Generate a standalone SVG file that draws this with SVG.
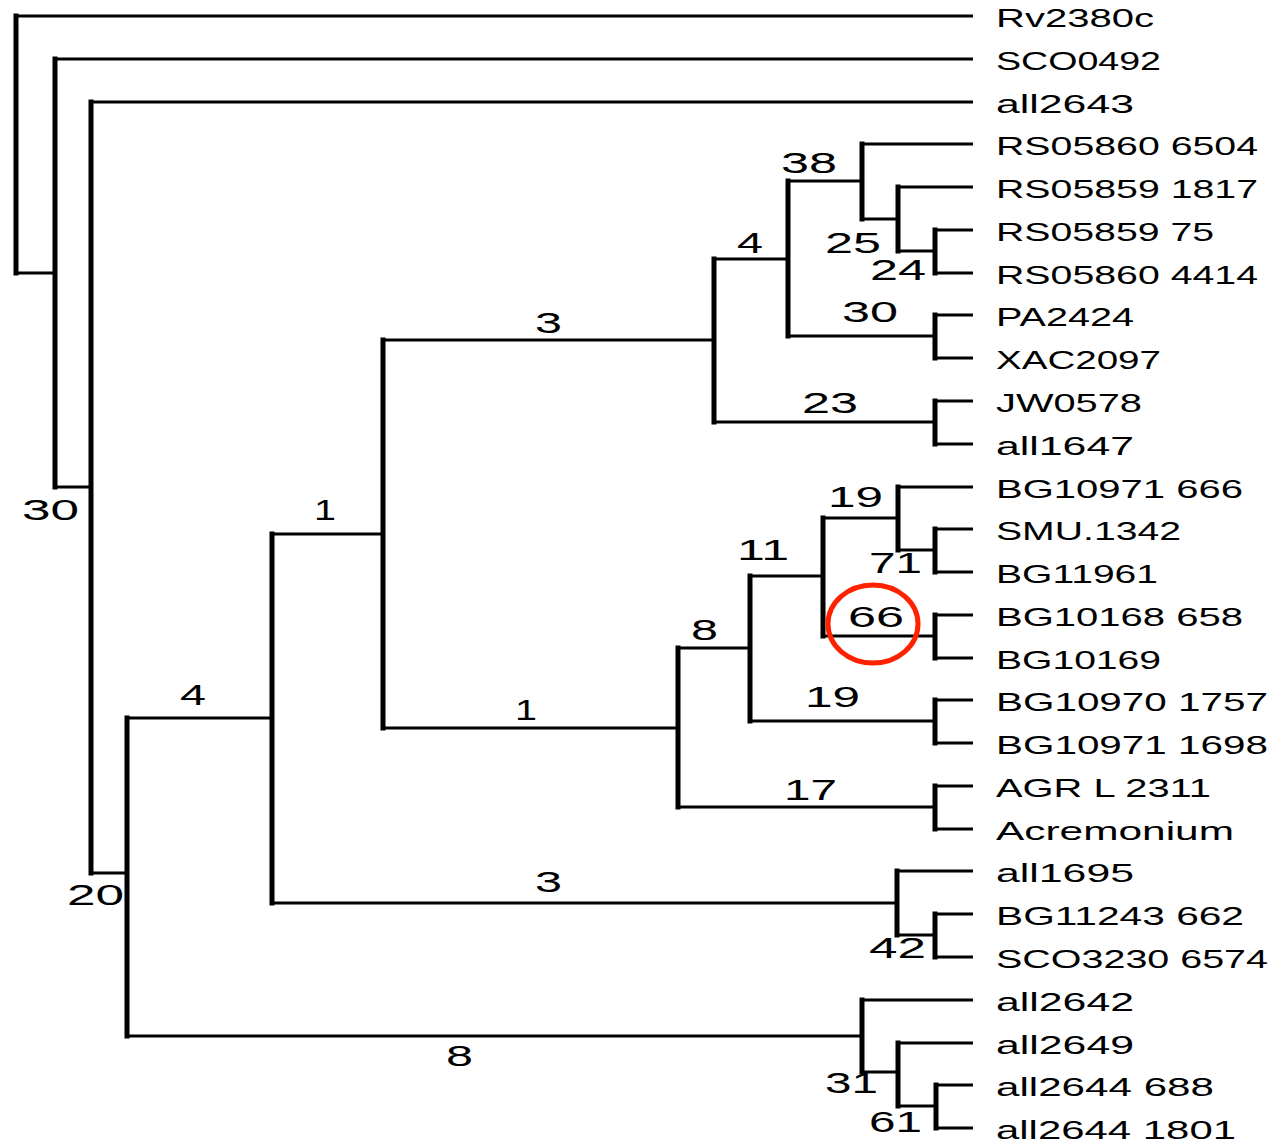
<svg xmlns="http://www.w3.org/2000/svg" width="1273" height="1144" viewBox="0 0 1273 1144">
<style>
.h{stroke:#000;stroke-width:3;fill:none}
.v{stroke:#000;stroke-width:5;fill:none;stroke-linecap:square}
.leaf{font-family:"Liberation Sans",Arial,sans-serif;font-size:26px;fill:#000}
.bl{font-family:"Liberation Sans",Arial,sans-serif;font-size:29px;fill:#000}
</style>
<rect width="1273" height="1144" fill="#fff"/>
<g id="connectors">
<path class="v" d="M16 16V273"/>
<path class="h" d="M16 16H973M16 273H55"/>
<path class="v" d="M55 59V487"/>
<path class="h" d="M55 59H973M55 487H91"/>
<path class="v" d="M91 102V873"/>
<path class="h" d="M91 102H973M91 873H127"/>
<path class="v" d="M127 718V1036"/>
<path class="h" d="M127 718H272M127 1036H862"/>
<path class="v" d="M272 534V903"/>
<path class="h" d="M272 534H383M272 903H897"/>
<path class="v" d="M383 340V728"/>
<path class="h" d="M383 340H714M383 728H678"/>
<path class="v" d="M714 259V422"/>
<path class="h" d="M714 259H788M714 422H935"/>
<path class="v" d="M788 181V336"/>
<path class="h" d="M788 181H862M788 336H935"/>
<path class="v" d="M862 144V219"/>
<path class="h" d="M862 144H973M862 219H898"/>
<path class="v" d="M898 187V251"/>
<path class="h" d="M898 187H973M898 251H935"/>
<path class="v" d="M935 230V273"/>
<path class="h" d="M935 230H973M935 273H973"/>
<path class="v" d="M935 315V358"/>
<path class="h" d="M935 315H973M935 358H973"/>
<path class="v" d="M935 401V444"/>
<path class="h" d="M935 401H973M935 444H973"/>
<path class="v" d="M678 648V807"/>
<path class="h" d="M678 648H750M678 807H935"/>
<path class="v" d="M750 576V721"/>
<path class="h" d="M750 576H823M750 721H935"/>
<path class="v" d="M823 518V636"/>
<path class="h" d="M823 518H898M823 636H935"/>
<path class="v" d="M898 487V550"/>
<path class="h" d="M898 487H973M898 550H935"/>
<path class="v" d="M935 529V572"/>
<path class="h" d="M935 529H973M935 572H973"/>
<path class="v" d="M935 615V658"/>
<path class="h" d="M935 615H973M935 658H973"/>
<path class="v" d="M935 700V743"/>
<path class="h" d="M935 700H973M935 743H973"/>
<path class="v" d="M935 786V829"/>
<path class="h" d="M935 786H973M935 829H973"/>
<path class="v" d="M897 871V935"/>
<path class="h" d="M897 871H973M897 935H935"/>
<path class="v" d="M935 914V957"/>
<path class="h" d="M935 914H973M935 957H973"/>
<path class="v" d="M862 1000V1072"/>
<path class="h" d="M862 1000H973M862 1072H898"/>
<path class="v" d="M898 1043V1106"/>
<path class="h" d="M898 1043H973M898 1106H936"/>
<path class="v" d="M936 1085V1128"/>
<path class="h" d="M936 1085H973M936 1128H973"/>
</g>
<g id="branch-labels">
<text class="bl" x="22" y="520" textLength="57" lengthAdjust="spacingAndGlyphs">30</text>
<text class="bl" x="67" y="905" textLength="57" lengthAdjust="spacingAndGlyphs">20</text>
<text class="bl" x="180" y="705" textLength="26" lengthAdjust="spacingAndGlyphs">4</text>
<text class="bl" x="446" y="1066" textLength="27" lengthAdjust="spacingAndGlyphs">8</text>
<text class="bl" x="314" y="520" textLength="22" lengthAdjust="spacingAndGlyphs">1</text>
<text class="bl" x="535" y="892" textLength="27" lengthAdjust="spacingAndGlyphs">3</text>
<text class="bl" x="535" y="333" textLength="27" lengthAdjust="spacingAndGlyphs">3</text>
<text class="bl" x="515" y="720" textLength="22" lengthAdjust="spacingAndGlyphs">1</text>
<text class="bl" x="737" y="253" textLength="26" lengthAdjust="spacingAndGlyphs">4</text>
<text class="bl" x="802" y="413" textLength="56" lengthAdjust="spacingAndGlyphs">23</text>
<text class="bl" x="781" y="173" textLength="56" lengthAdjust="spacingAndGlyphs">38</text>
<text class="bl" x="842" y="322" textLength="56" lengthAdjust="spacingAndGlyphs">30</text>
<text class="bl" x="825" y="253" textLength="56" lengthAdjust="spacingAndGlyphs">25</text>
<text class="bl" x="870" y="280" textLength="56" lengthAdjust="spacingAndGlyphs">24</text>
<text class="bl" x="691" y="640" textLength="27" lengthAdjust="spacingAndGlyphs">8</text>
<text class="bl" x="784" y="800" textLength="53" lengthAdjust="spacingAndGlyphs">17</text>
<text class="bl" x="737" y="560" textLength="52" lengthAdjust="spacingAndGlyphs">11</text>
<text class="bl" x="805" y="707" textLength="55" lengthAdjust="spacingAndGlyphs">19</text>
<text class="bl" x="828" y="507" textLength="55" lengthAdjust="spacingAndGlyphs">19</text>
<text class="bl" x="848" y="627" textLength="56" lengthAdjust="spacingAndGlyphs">66</text>
<text class="bl" x="869" y="573" textLength="53" lengthAdjust="spacingAndGlyphs">71</text>
<text class="bl" x="869" y="958" textLength="57" lengthAdjust="spacingAndGlyphs">42</text>
<text class="bl" x="825" y="1093" textLength="53" lengthAdjust="spacingAndGlyphs">31</text>
<text class="bl" x="869" y="1132" textLength="53" lengthAdjust="spacingAndGlyphs">61</text>
</g>
<g id="leaves">
<g id="leaf-Rv2380c"><text class="leaf" x="996" y="27" textLength="158" lengthAdjust="spacingAndGlyphs">Rv2380c</text></g>
<g id="leaf-SCO0492"><text class="leaf" x="996" y="70" textLength="165" lengthAdjust="spacingAndGlyphs">SCO0492</text></g>
<g id="leaf-all2643"><text class="leaf" x="996" y="113" textLength="138" lengthAdjust="spacingAndGlyphs">all2643</text></g>
<g id="leaf-RS05860-6504"><text class="leaf" x="996" y="155" textLength="262" lengthAdjust="spacingAndGlyphs">RS05860 6504</text></g>
<g id="leaf-RS05859-1817"><text class="leaf" x="996" y="198" textLength="262" lengthAdjust="spacingAndGlyphs">RS05859 1817</text></g>
<g id="leaf-RS05859-75"><text class="leaf" x="996" y="241" textLength="218" lengthAdjust="spacingAndGlyphs">RS05859 75</text></g>
<g id="leaf-RS05860-4414"><text class="leaf" x="996" y="284" textLength="262" lengthAdjust="spacingAndGlyphs">RS05860 4414</text></g>
<g id="leaf-PA2424"><text class="leaf" x="996" y="326" textLength="138" lengthAdjust="spacingAndGlyphs">PA2424</text></g>
<g id="leaf-XAC2097"><text class="leaf" x="996" y="369" textLength="165" lengthAdjust="spacingAndGlyphs">XAC2097</text></g>
<g id="leaf-JW0578"><text class="leaf" x="996" y="412" textLength="146" lengthAdjust="spacingAndGlyphs">JW0578</text></g>
<g id="leaf-all1647"><text class="leaf" x="996" y="455" textLength="138" lengthAdjust="spacingAndGlyphs">all1647</text></g>
<g id="leaf-BG10971-666"><text class="leaf" x="996" y="498" textLength="247" lengthAdjust="spacingAndGlyphs">BG10971 666</text></g>
<g id="leaf-SMU1342"><text class="leaf" x="996" y="540" textLength="185" lengthAdjust="spacingAndGlyphs">SMU.1342</text></g>
<g id="leaf-BG11961"><text class="leaf" x="996" y="583" textLength="162" lengthAdjust="spacingAndGlyphs">BG11961</text></g>
<g id="leaf-BG10168-658"><text class="leaf" x="996" y="626" textLength="247" lengthAdjust="spacingAndGlyphs">BG10168 658</text></g>
<g id="leaf-BG10169"><text class="leaf" x="996" y="669" textLength="165" lengthAdjust="spacingAndGlyphs">BG10169</text></g>
<g id="leaf-BG10970-1757"><text class="leaf" x="996" y="711" textLength="272" lengthAdjust="spacingAndGlyphs">BG10970 1757</text></g>
<g id="leaf-BG10971-1698"><text class="leaf" x="996" y="754" textLength="272" lengthAdjust="spacingAndGlyphs">BG10971 1698</text></g>
<g id="leaf-AGRL2311"><text class="leaf" x="996" y="797" textLength="215" lengthAdjust="spacingAndGlyphs">AGR L 2311</text></g>
<g id="leaf-Acremonium"><text class="leaf" x="996" y="840" textLength="238" lengthAdjust="spacingAndGlyphs">Acremonium</text></g>
<g id="leaf-all1695"><text class="leaf" x="996" y="882" textLength="138" lengthAdjust="spacingAndGlyphs">all1695</text></g>
<g id="leaf-BG11243-662"><text class="leaf" x="996" y="925" textLength="248" lengthAdjust="spacingAndGlyphs">BG11243 662</text></g>
<g id="leaf-SCO3230-6574"><text class="leaf" x="996" y="968" textLength="272" lengthAdjust="spacingAndGlyphs">SCO3230 6574</text></g>
<g id="leaf-all2642"><text class="leaf" x="996" y="1011" textLength="138" lengthAdjust="spacingAndGlyphs">all2642</text></g>
<g id="leaf-all2649"><text class="leaf" x="996" y="1054" textLength="138" lengthAdjust="spacingAndGlyphs">all2649</text></g>
<g id="leaf-all2644-688"><text class="leaf" x="996" y="1096" textLength="218" lengthAdjust="spacingAndGlyphs">all2644 688</text></g>
<g id="leaf-all2644-1801"><text class="leaf" x="996" y="1139" textLength="240" lengthAdjust="spacingAndGlyphs">all2644 1801</text></g>
</g>
<g id="highlight">
<ellipse cx="873" cy="624" rx="45" ry="39" fill="none" stroke="#ff2200" stroke-width="5"/>
</g>
</svg>
